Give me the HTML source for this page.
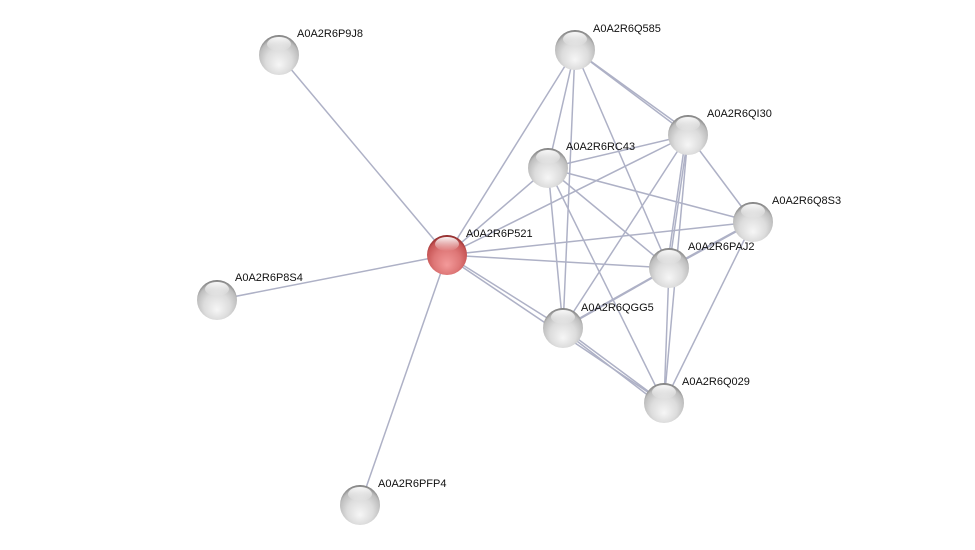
<!DOCTYPE html>
<html><head><meta charset="utf-8"><style>
html,body{margin:0;padding:0;background:#fff;}
svg{display:block;}
text{font-family:"Liberation Sans",sans-serif;font-size:11px;fill:#111;}
</style></head><body>
<svg width="975" height="550" viewBox="0 0 975 550" xmlns="http://www.w3.org/2000/svg">
<defs>
<radialGradient id="g" cx="0.5" cy="0.6" r="0.6" fx="0.5" fy="0.75">
<stop offset="0" stop-color="#f6f6f6"/><stop offset="0.55" stop-color="#dcdcdc"/><stop offset="0.85" stop-color="#bdbdbd"/><stop offset="1" stop-color="#7a7a7a"/>
</radialGradient>
<radialGradient id="r" cx="0.5" cy="0.6" r="0.6" fx="0.5" fy="0.75">
<stop offset="0" stop-color="#f39a9a"/><stop offset="0.55" stop-color="#de7777"/><stop offset="0.85" stop-color="#c85656"/><stop offset="1" stop-color="#8a2626"/>
</radialGradient>
<linearGradient id="h" x1="0" y1="0" x2="0" y2="1">
<stop offset="0" stop-color="#fff" stop-opacity="0.95"/><stop offset="1" stop-color="#fff" stop-opacity="0"/>
</linearGradient>
</defs>
<g stroke="#aeb1c6" stroke-width="1.5" fill="none">
<line x1="447" y1="255" x2="279" y2="55"/>
<line x1="447" y1="255" x2="217" y2="300"/>
<line x1="447" y1="255" x2="360" y2="505"/>
<line x1="447" y1="255" x2="575" y2="50"/>
<line x1="447" y1="255" x2="548" y2="168"/>
<line x1="447" y1="255" x2="688" y2="135"/>
<line x1="447" y1="255" x2="753" y2="222"/>
<line x1="447" y1="255" x2="669" y2="268"/>
<line x1="447" y1="255" x2="563" y2="328"/>
<line x1="449" y1="258" x2="664" y2="403"/>
<line x1="575" y1="50" x2="548" y2="168"/>
<line x1="575" y1="50" x2="563" y2="328"/>
<line x1="575" y1="50" x2="669" y2="268"/>
<line x1="575" y1="50" x2="688" y2="135"/>
<line x1="578" y1="52" x2="686" y2="130"/>
<line x1="548" y1="168" x2="688" y2="135"/>
<line x1="548" y1="168" x2="753" y2="222"/>
<line x1="548" y1="168" x2="669" y2="268"/>
<line x1="548" y1="168" x2="563" y2="328"/>
<line x1="548" y1="168" x2="664" y2="403"/>
<line x1="688" y1="135" x2="669" y2="268"/>
<line x1="686" y1="135" x2="667" y2="268"/>
<line x1="688" y1="135" x2="753" y2="222"/>
<line x1="688" y1="135" x2="563" y2="328"/>
<line x1="688" y1="135" x2="664" y2="403"/>
<line x1="753" y1="222" x2="669" y2="268" stroke-width="2.4"/>
<line x1="753" y1="222" x2="664" y2="403"/>
<line x1="669" y1="268" x2="563" y2="328" stroke-width="2.2"/>
<line x1="669" y1="268" x2="664" y2="403"/>
<line x1="563" y1="328" x2="664" y2="403"/>
<line x1="565" y1="332" x2="662" y2="406"/>
</g>
<g>
<circle cx="279" cy="55" r="20" fill="url(#g)"/>
<circle cx="575" cy="50" r="20" fill="url(#g)"/>
<circle cx="688" cy="135" r="20" fill="url(#g)"/>
<circle cx="548" cy="168" r="20" fill="url(#g)"/>
<circle cx="753" cy="222" r="20" fill="url(#g)"/>
<circle cx="669" cy="268" r="20" fill="url(#g)"/>
<circle cx="217" cy="300" r="20" fill="url(#g)"/>
<circle cx="563" cy="328" r="20" fill="url(#g)"/>
<circle cx="664" cy="403" r="20" fill="url(#g)"/>
<circle cx="360" cy="505" r="20" fill="url(#g)"/>
<circle cx="447" cy="255" r="20" fill="url(#r)"/>
</g>
<g fill="url(#h)">
<ellipse cx="279" cy="44" rx="12" ry="7"/>
<ellipse cx="575" cy="39" rx="12" ry="7"/>
<ellipse cx="688" cy="124" rx="12" ry="7"/>
<ellipse cx="548" cy="157" rx="12" ry="7"/>
<ellipse cx="753" cy="211" rx="12" ry="7"/>
<ellipse cx="669" cy="257" rx="12" ry="7"/>
<ellipse cx="217" cy="289" rx="12" ry="7"/>
<ellipse cx="563" cy="317" rx="12" ry="7"/>
<ellipse cx="664" cy="392" rx="12" ry="7"/>
<ellipse cx="360" cy="494" rx="12" ry="7"/>
<ellipse cx="447" cy="244" rx="12" ry="7"/>
</g>
<g>
<text x="297" y="37">A0A2R6P9J8</text>
<text x="593" y="32">A0A2R6Q585</text>
<text x="707" y="117">A0A2R6QI30</text>
<text x="566" y="150">A0A2R6RC43</text>
<text x="772" y="204">A0A2R6Q8S3</text>
<text x="466" y="237">A0A2R6P521</text>
<text x="688" y="250">A0A2R6PAJ2</text>
<text x="235" y="281">A0A2R6P8S4</text>
<text x="581" y="311">A0A2R6QGG5</text>
<text x="682" y="385">A0A2R6Q029</text>
<text x="378" y="487">A0A2R6PFP4</text>
</g>
</svg>
</body></html>
